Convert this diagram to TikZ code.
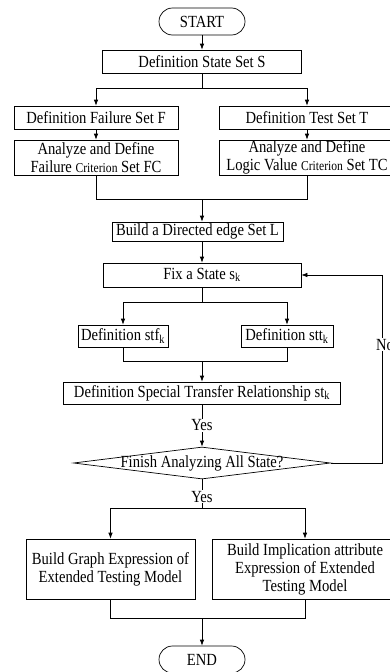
\documentclass[tikz,border=0pt]{standalone}
\usepackage{fontspec}
\setmainfont{Liberation Serif}[FakeStretch=0.86]
\usetikzlibrary{arrows.meta}
\usetikzlibrary{shapes.geometric}
\newcommand{\critword}{{\fontsize{13.5}{18}\selectfont Criterion}}
\tikzset{
    every node/.style={
        font=\fontsize{17}{18}\selectfont},
    box/.style={
        draw,
        line width=0.7pt,
        rectangle,
        align=center,
        inner sep=0pt},
    term/.style={
        draw,
        line width=0.7pt,
        rectangle,
        rounded corners=13.5pt,
        inner sep=0pt,
        minimum width=86pt,
        minimum height=27pt},
    decision/.style={
        draw,
        line width=0.7pt,
        diamond,
        inner sep=0pt,
        minimum width=257pt,
        minimum height=32pt},
    lbl/.style={
        fill=white,
        inner sep=1pt},
    line/.style={
        draw,
        line width=0.7pt},
    arrow/.style={
        line,
        -{Latex[length=6pt,width=4.5pt]}},
    every edge/.style={
        arrow}}

\begin{document}
\begin{tikzpicture}[x=1pt,y=-1pt]
        \useasboundingbox (0,0) rectangle (390,672);

        \node[term] (start) at (202,21.5) {START};
        \node[box,minimum width=199pt,minimum height=23pt] (sets) at (202,61.5) {Definition State Set S};
        \node[box,minimum width=164pt,minimum height=23pt] (fail) at (96,117.5) {Definition Failure Set F};
        \node[box,minimum width=176pt,minimum height=23pt] (test) at (307,117.5) {Definition Test Set T};
        \node[box,minimum width=164pt,minimum height=35pt] (afc) at (96,157.5) {Analyze and Define\\Failure \critword{} Set FC};
        \node[box,minimum width=176pt,minimum height=35pt] (atc) at (307,157.5) {Analyze and Define\\Logic Value \critword{} Set TC};
        \node[box,minimum width=171pt,minimum height=19pt] (edges) at (197.5,231.5) {Build a Directed edge Set L};
        \node[box,minimum width=198pt,minimum height=24pt] (fix) at (202,275) {Fix a State s\textsubscript{k}};
        \node[box,minimum width=90pt,minimum height=22pt] (stf) at (123,336) {Definition stf\textsubscript{k}};
        \node[box,minimum width=92pt,minimum height=22pt] (stt) at (287,336) {Definition stt\textsubscript{k}};
        \node[box,minimum width=277pt,minimum height=22pt] (spec) at (202,393) {Definition Special Transfer Relationship st\textsubscript{k}};
        \node[decision] (finish) at (202,463) {};
        \node (finishtext) at (finish) {Finish Analyzing All State?};
        \node[box,minimum width=169pt,minimum height=60pt] (graph) at (110.5,569) {Build Graph Expression of\\Extended Testing Model};
        \node[box,minimum width=186pt,minimum height=60pt] (impl) at (305,569) {Build Implication attribute\\Expression of Extended\\Testing Model};
        \node[term] (end) at (202,659.5) {END};

        \coordinate (b1) at (202,88);
        \coordinate (m1) at (202,199);
        \coordinate (b2) at (202,302);
        \coordinate (m2) at (202,361);
        \coordinate (c1) at (382,463);
        \coordinate (b3) at (202,508);
        \coordinate (m3) at (202,618);

        \draw (start) edge (sets);
        \draw[line] (sets) -- (b1);
        \draw[arrow] (b1) -| (fail);
        \draw[arrow] (b1) -| (test);

        \draw (fail) edge (afc);
        \draw (test) edge (atc);
        \draw[line] (afc) |- (m1);
        \draw[line] (atc) |- (m1);
        \draw[arrow] (m1) -- (m1 |- edges.north);

        \draw[arrow] (edges.south -| fix.north) -- (fix.north);
        \draw[line] (fix) -- (b2);
        \draw[arrow] (b2) -| (stf);
        \draw[arrow] (b2) -| (stt);
        \draw[line] (stf) |- (m2);
        \draw[line] (stt) |- (m2);
        \draw (m2) edge (spec);

        \draw (spec) edge node[lbl] {Yes} (finish);
        \draw[arrow] (finish.east) -- (c1) -- node[lbl,pos=0.63,xshift=3pt] {No} (c1 |- fix.east) -- (fix.east);

        \draw[line] (finish) -- node[lbl,pos=0.6] {Yes} (b3);
        \draw[arrow] (b3) -| (graph);
        \draw[arrow] (b3) -| (impl);
        \draw[line] (graph) |- (m3);
        \draw[line] (impl) |- (m3);
        \draw (m3) edge (end);
    \end{tikzpicture}
\end{document}
